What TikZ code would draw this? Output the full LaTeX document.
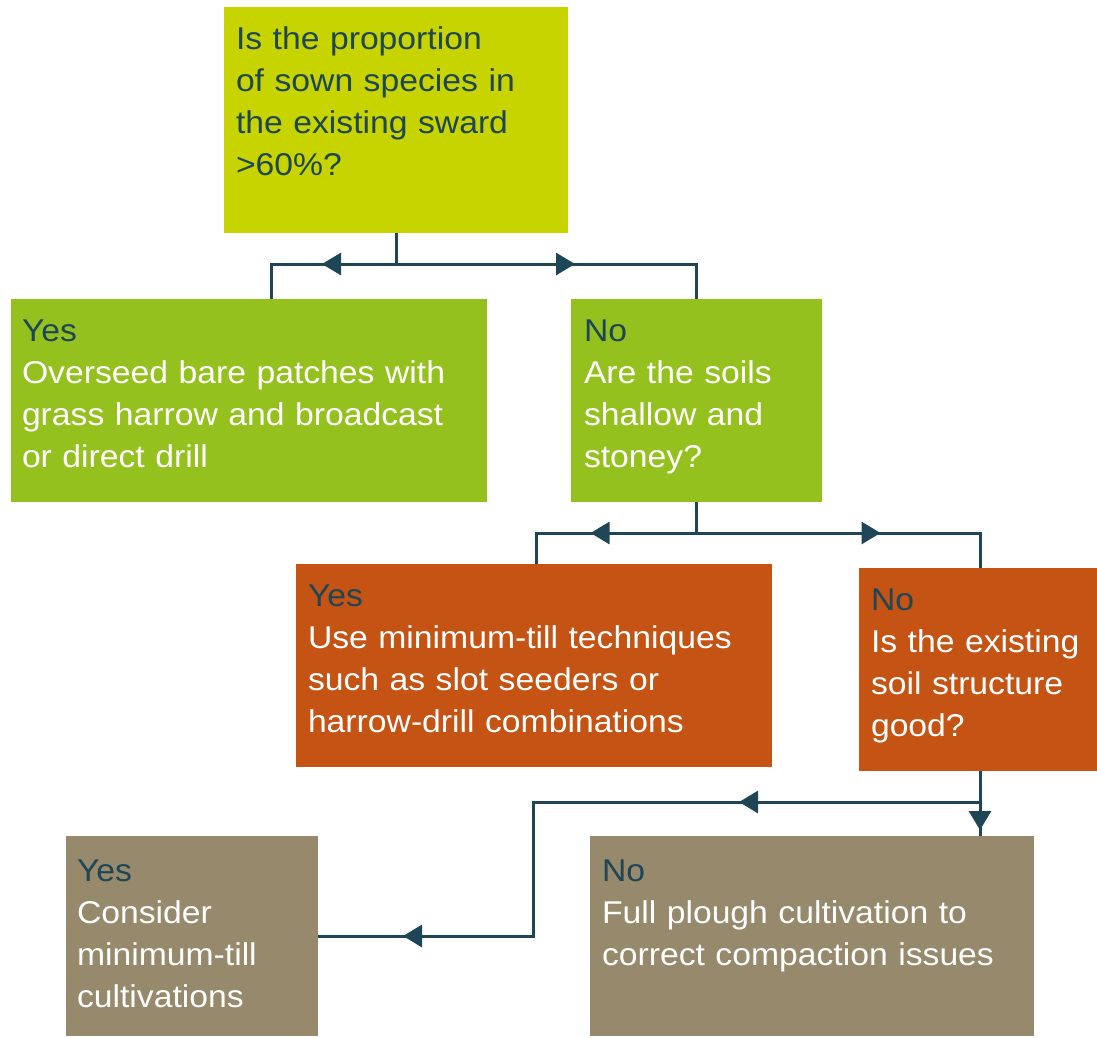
\documentclass[tikz,border=0pt]{standalone}
\usepackage{fontspec}
\setmainfont{Liberation Sans}[FakeStretch=1.07]
\usetikzlibrary{arrows.meta,calc}
\definecolor{qcol}{HTML}{C8D400}
\definecolor{gcol}{HTML}{95C11F}
\definecolor{ocol}{HTML}{C45314}
\definecolor{bcol}{HTML}{97896B}
\definecolor{lcol}{HTML}{1E4656}
\tikzset{
  box/.style={draw=none, inner sep=0pt, outer sep=0pt, anchor=north west},
  txt/.style={anchor=north west, inner sep=0pt, outer sep=0pt, align=left,
    text width=520pt, text=white, font=\fontsize{31.5}{42}\selectfont},
  conn/.style={draw=lcol, line width=3pt},
  tipa/.style={draw=lcol, line width=3pt, -{Triangle[length=19pt,width=22pt]}},
}
\newcommand{\dk}[1]{\textcolor{lcol}{#1}}
\begin{document}
\begin{tikzpicture}[x=1pt,y=-1pt]
\useasboundingbox (0,0) rectangle (1097,1037);
% boxes
\node[box, fill=qcol, minimum width=344pt, minimum height=226pt] (q1) at (224,7) {};
\node[box, fill=gcol, minimum width=476pt, minimum height=203pt] (y1) at (11,299) {};
\node[box, fill=gcol, minimum width=251pt, minimum height=203pt] (n1) at (571,299) {};
\node[box, fill=ocol, minimum width=476pt, minimum height=203pt] (y2) at (296,564) {};
\node[box, fill=ocol, minimum width=238pt, minimum height=203pt] (n2) at (859,568) {};
\node[box, fill=bcol, minimum width=252pt, minimum height=200pt] (y3) at (66,836) {};
\node[box, fill=bcol, minimum width=444pt, minimum height=200pt] (n3) at (590,836) {};
% texts
\node[txt, text=lcol] (tq1) at ([xshift=12pt,yshift=-12.6pt]q1.north west)
  {\strut Is the proportion\\of sown species in\\the existing sward\\>60\%?};
\node[txt] (ty1) at ([xshift=11pt,yshift=-12.6pt]y1.north west)
  {\strut\dk{Yes}\\Overseed bare patches with\\grass harrow and broadcast\\or direct drill};
\node[txt] (tn1) at ([xshift=13pt,yshift=-12.6pt]n1.north west)
  {\strut\dk{No}\\Are the soils\\shallow and\\stoney?};
\node[txt] (ty2) at ([xshift=12pt,yshift=-12.6pt]y2.north west)
  {\strut\dk{Yes}\\Use minimum-till techniques\\such as slot seeders or\\harrow-drill combinations};
\node[txt] (tn2) at ([xshift=12pt,yshift=-12.6pt]n2.north west)
  {\strut\dk{No}\\Is the existing\\soil structure\\good?};
\node[txt] (ty3) at ([xshift=11pt,yshift=-16.3pt]y3.north west)
  {\strut\dk{Yes}\\Consider\\minimum-till\\cultivations};
\node[txt] (tn3) at ([xshift=12pt,yshift=-16.3pt]n3.north west)
  {\strut\dk{No}\\Full plough cultivation to\\correct compaction issues};
% first split
\path (q1.south) ++(0,31) coordinate (j1);
\draw[conn] (q1.south) -- (j1);
\draw[conn] (j1) -| ([xshift=260pt]y1.north west);
\draw[conn] (j1) -| (n1.north);
\draw[tipa] ([xshift=-50pt]j1) -- ([xshift=-74pt]j1);
\draw[tipa] ([xshift=155pt]j1) -- ([xshift=179pt]j1);
% second split
\path (n1.south) ++(0,31) coordinate (j2);
\draw[conn] (n1.south) -- (j2);
\draw[conn] (j2) -| ([xshift=240pt]y2.north west);
\draw[conn] (j2) -| ([xshift=121pt]n2.north west);
\draw[tipa] ([xshift=-82pt]j2) -- ([xshift=-106pt]j2);
\draw[tipa] ([xshift=160pt]j2) -- ([xshift=184pt]j2);
% third split
\coordinate (s3) at ([xshift=121pt]n2.south west);
\coordinate (j3) at ([xshift=121pt,yshift=-31pt]n2.south west);
\coordinate (e3) at ([xshift=390pt]n3.north west);
\draw[conn] (s3) -- (e3);
\draw[tipa] ([yshift=-10pt]j3) -- ([yshift=6pt]e3);
\draw[conn] (j3) -- ++(-447,0) |- (y3.east);
\draw[tipa] ([xshift=-217pt]j3) -- ([xshift=-241pt]j3);
\draw[tipa] ([xshift=109pt]y3.east) -- ([xshift=85pt]y3.east);
\end{tikzpicture}
\end{document}
